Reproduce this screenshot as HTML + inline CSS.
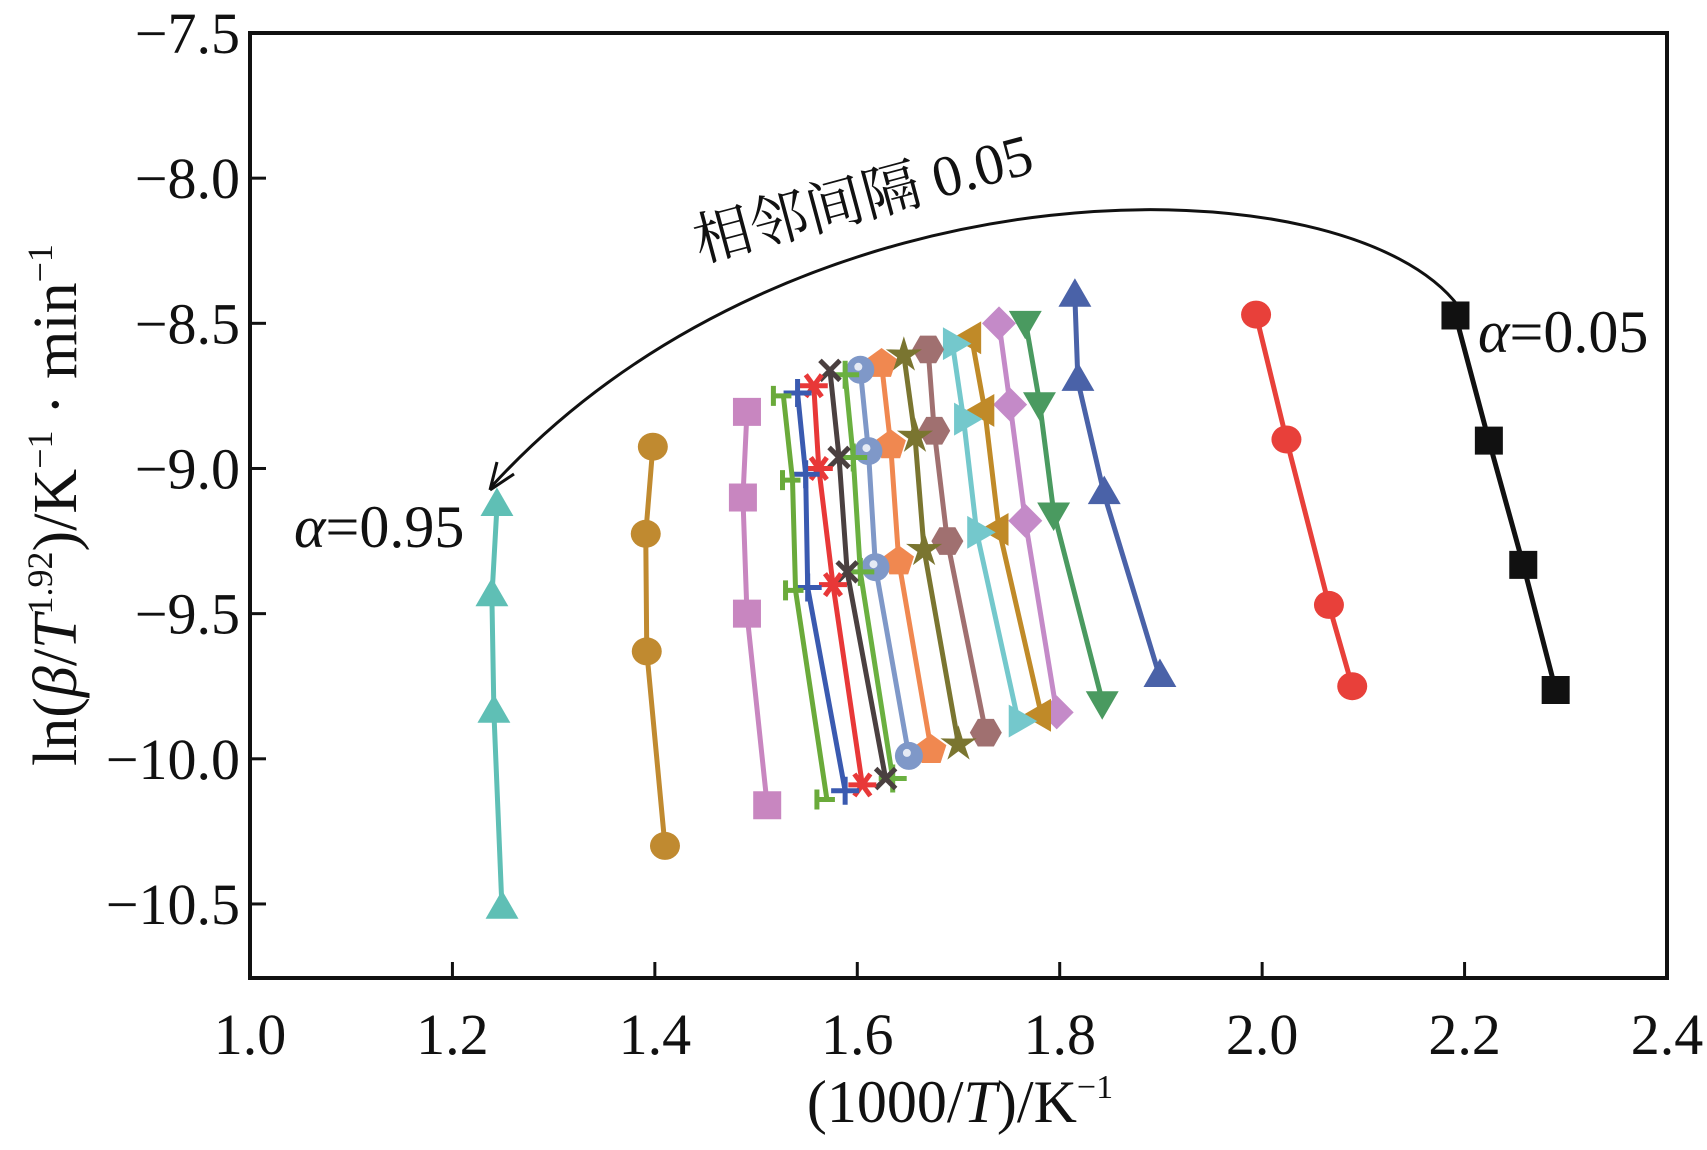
<!DOCTYPE html>
<html><head><meta charset="utf-8"><style>
html,body{margin:0;padding:0;background:#fff}
svg{display:block}
text{font-family:"Liberation Serif","Noto Serif CJK SC",serif;fill:#111}
</style></head><body>
<svg id="chart" width="1707" height="1150" viewBox="0 0 1707 1150" xmlns="http://www.w3.org/2000/svg">
<path d="M1459 307 C1350 160, 800 150, 492 486" fill="none" stroke="#111" stroke-width="3"/>
<path d="M490 490 L497 462 M490 490 L514 474" stroke="#111" stroke-width="3" fill="none"/>
<text x="700" y="262" font-size="58" transform="rotate(-15 700 262)">相邻间隔 0.05</text>
<text x="1478" y="352" font-size="60"><tspan font-style="italic">α</tspan>=0.05</text>
<text x="294" y="547" font-size="60"><tspan font-style="italic">α</tspan>=0.95</text>
<text x="960" y="1122" font-size="60" text-anchor="middle">(1000/<tspan font-style="italic">T</tspan>)/K<tspan font-size="34" dy="-24">−1</tspan></text>
<text x="0" y="0" font-size="62" text-anchor="middle" transform="translate(76 505) rotate(-90)">ln(<tspan font-style="italic">β</tspan>/<tspan font-style="italic">T</tspan><tspan font-size="36" dy="-24">1.92</tspan><tspan dy="24">)/K</tspan><tspan font-size="36" dy="-24">−1</tspan><tspan dy="24"> · min</tspan><tspan font-size="36" dy="-24">−1</tspan></text>
<g id="plot"></g>
</svg>
<script>
const xTicks=[1.0,1.2,1.4,1.6,1.8,2.0,2.2,2.4];
const yTicks=[-7.5,-8.0,-8.5,-9.0,-9.5,-10.0,-10.5];
const alphas=[0.05,0.10,0.15,0.20,0.25,0.30,0.35,0.40,0.45,0.50,0.55,0.60,0.65,0.70,0.75,0.80,0.85,0.90,0.95];
const xs=[
[2.191,2.224,2.258,2.290],
[1.994,2.024,2.066,2.089],
[1.815,1.818,1.844,1.899],
[1.766,1.780,1.794,1.842],
[1.740,1.751,1.766,1.797],
[1.713,1.726,1.740,1.782],
[1.694,1.705,1.718,1.759],
[1.670,1.676,1.689,1.727],
[1.646,1.657,1.666,1.700],
[1.624,1.633,1.641,1.673],
[1.603,1.611,1.618,1.651],
[1.588,1.596,1.603,1.635],
[1.573,1.582,1.590,1.628],
[1.557,1.562,1.576,1.605],
[1.541,1.549,1.551,1.588],
[1.527,1.536,1.539,1.570],
[1.491,1.487,1.491,1.511],
[1.398,1.391,1.392,1.410],
[1.244,1.239,1.241,1.249]];
const ys=[
[-8.473,-8.904,-9.332,-9.763],
[-8.47,-8.90,-9.47,-9.75],
[-8.41,-8.70,-9.09,-9.72],
[-8.49,-8.77,-9.15,-9.80],
[-8.50,-8.78,-9.18,-9.84],
[-8.55,-8.80,-9.21,-9.85],
[-8.57,-8.83,-9.22,-9.87],
[-8.59,-8.87,-9.25,-9.91],
[-8.61,-8.89,-9.28,-9.95],
[-8.64,-8.92,-9.32,-9.97],
[-8.66,-8.94,-9.34,-9.99],
[-8.677,-8.962,-9.356,-10.068],
[-8.662,-8.962,-9.356,-10.068],
[-8.715,-9.0,-9.40,-10.09],
[-8.74,-9.02,-9.41,-10.11],
[-8.75,-9.04,-9.42,-10.14],
[-8.805,-9.10,-9.50,-10.16],
[-8.925,-9.225,-9.63,-10.30],
[-9.131,-9.442,-9.843,-10.518]];
const colors=['#111','#e8403a','#4a62a8','#4a9a60','#c48ac8','#c08a28','#74c8cc','#a07070','#7a7530','#f08850','#7f98c8','#6ab040','#4a4040','#e83838','#3a5ab0','#6aaa3a','#c886c0','#c08a30','#5fbfb5'];
const shapes=['square','circle','tri-up','tri-down','diamond','tri-left','tri-right','hexagon','star','pentagon','sphere','plus','cross','asterisk','plus','bar','square','circle','tri-up'];

const L=250,R=1667,T=33,B=978;
const X=v=>L+(v-1.0)*(R-L)/1.4;
const Y=v=>T+(-7.5-v)*(B-T)/3.255;
const NS='http://www.w3.org/2000/svg';
const svg=document.getElementById('chart');
function mk(tag,attrs,parent){const e=document.createElementNS(NS,tag);for(const k in attrs)e.setAttribute(k,attrs[k]);(parent||svg).appendChild(e);return e;}

const frame=mk('rect',{x:L,y:T,width:R-L,height:B-T,fill:'none',stroke:'#111','stroke-width':4});



xTicks.forEach(v=>{
  const t=mk('line',{x1:X(v),x2:X(v),y1:B,y2:B-16,stroke:'#111','stroke-width':3});
  
  
  const lb=mk('text',{x:X(v),y:B+76,'text-anchor':'middle','font-size':58});
  lb.textContent=v.toFixed(1);
  
  
});
yTicks.forEach(v=>{
  const t=mk('line',{x1:L,x2:L+16,y1:Y(v),y2:Y(v),stroke:'#111','stroke-width':3});
  
  
  const lb=mk('text',{x:L-10,y:Y(v)+20,'text-anchor':'end','font-size':58});
  lb.textContent='\u2212'+Math.abs(v).toFixed(1);
  
  
});

function marker(shape,cx,cy,c,g){
  const s=14;let e;
  const poly=pts=>mk('polygon',{points:pts.map(p=>p.join(',')).join(' '),fill:c},g);
  const reg=(n,r,rot)=>{const p=[];for(let i=0;i<n;i++){const a=rot+i*2*Math.PI/n;p.push([cx+r*Math.cos(a),cy+r*Math.sin(a)]);}return p;};
  switch(shape){
    case 'square':e=mk('rect',{x:cx-s,y:cy-s,width:2*s,height:2*s,fill:c},g);break;
    case 'circle':e=mk('ellipse',{cx:cx,cy:cy,rx:s+1,ry:s,fill:c},g);break;
    case 'sphere':e=mk('circle',{cx:cx,cy:cy,r:s,fill:c},g);mk('circle',{cx:cx-2,cy:cy-3,r:4,fill:'#fff',opacity:0.8},g);break;
    case 'tri-up':e=poly(reg(3,s+5,-Math.PI/2));break;
    case 'tri-down':e=poly(reg(3,s+5,Math.PI/2));break;
    case 'tri-left':e=poly(reg(3,s+5,Math.PI));break;
    case 'tri-right':e=poly(reg(3,s+5,0));break;
    case 'diamond':e=poly(reg(4,s+3,0));break;
    case 'hexagon':e=poly(reg(6,s+2,0));break;
    case 'pentagon':e=poly(reg(5,s+2,-Math.PI/2));break;
    case 'star':{const p=[];for(let i=0;i<10;i++){const r=i%2?7:s+5;const a=-Math.PI/2+i*Math.PI/5;p.push([cx+r*Math.cos(a),cy+r*Math.sin(a)]);}e=poly(p);break;}
    case 'plus':e=mk('path',{d:`M${cx-s} ${cy}H${cx+s}M${cx} ${cy-s}V${cy+s}`,stroke:c,'stroke-width':5,fill:'none'},g);break;
    case 'cross':e=mk('path',{d:`M${cx-10} ${cy-10}L${cx+10} ${cy+10}M${cx+10} ${cy-10}L${cx-10} ${cy+10}`,stroke:c,'stroke-width':5,fill:'none'},g);break;
    case 'asterisk':e=mk('path',{d:`M${cx-s} ${cy}H${cx+s}M${cx-8} ${cy-11}L${cx+8} ${cy+11}M${cx+8} ${cy-11}L${cx-8} ${cy+11}`,stroke:c,'stroke-width':5,fill:'none'},g);break;
    case 'bar':e=mk('path',{d:`M${cx-10} ${cy-10}V${cy+10}M${cx-10} ${cy}H${cx+8}`,stroke:c,'stroke-width':5,fill:'none'},g);break;
  }
  return e;
}

alphas.forEach((a,i)=>{
  const g=mk('g',{});
  
  
  const pts=xs[i].map((x,j)=>X(x)+','+Y(ys[i][j])).join(' ');
  const ln=mk('polyline',{points:pts,fill:'none',stroke:colors[i],'stroke-width':5},g);
  
  
  xs[i].forEach((x,j)=>{
    const m=marker(shapes[i],X(x),Y(ys[i][j]),colors[i],g);
    
    
  });
});
</script>
</body></html>
